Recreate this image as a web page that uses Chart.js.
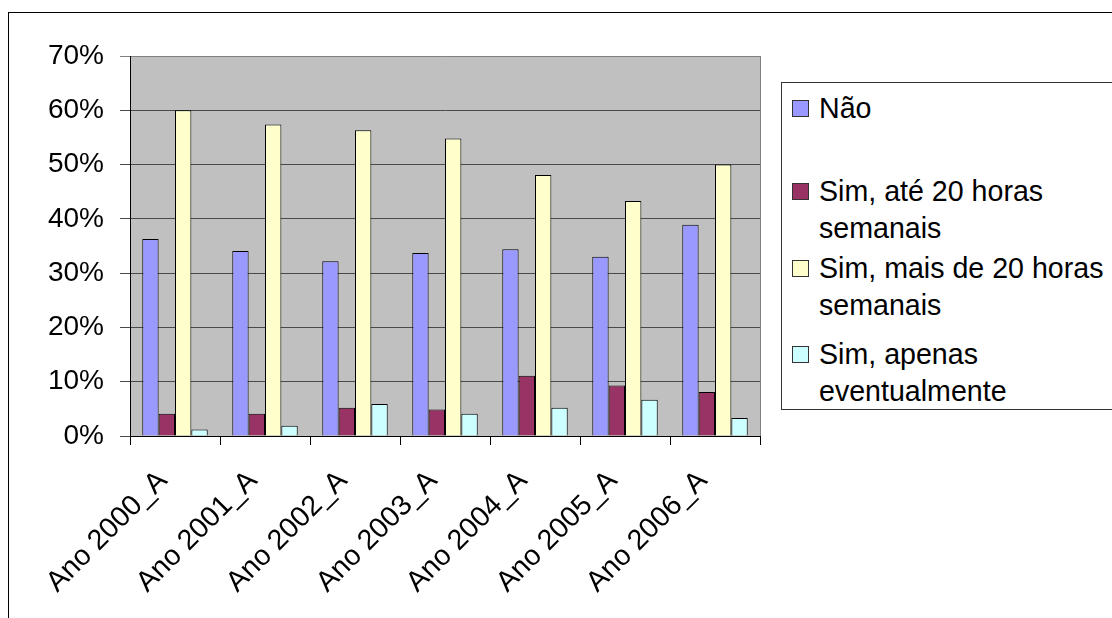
<!DOCTYPE html>
<html>
<head>
<meta charset="utf-8">
<script src="https://cdn.jsdelivr.net/npm/chart.js@4"></script>
<style>
  html, body { margin: 0; padding: 0; background: #fff; overflow: hidden; }
  #wrap { position: relative; width: 1112px; height: 618px; overflow: hidden; background: #fff; }
  #frame { position: absolute; left: 8px; top: 12px; width: 1200px; height: 700px; border: 1px solid #000; box-sizing: border-box; }
  #c { position: absolute; left: 0; top: 0; }
  #legend { position: absolute; left: 781px; top: 82px; width: 400px; height: 328px; border: 1px solid #333;
            background: #fff; box-sizing: border-box; font-family: "Liberation Sans", Arial, sans-serif;
            font-size: 28.6px; color: #000; }
  .sw { position: absolute; left: 10px; width: 17px; height: 17px; border: 1px solid #333; box-sizing: border-box; }
  .txt { position: absolute; left: 37px; width: 300px; line-height: 37px; }
</style>
</head>
<body>
<div id="wrap">
  <div id="frame"></div>
  <canvas id="c" width="1112" height="618" style="width:1112px;height:618px"></canvas>
  <div id="legend"></div>
</div>
<script>
// Categories (survey years)
const categories = ['Ano 2000_A', 'Ano 2001_A', 'Ano 2002_A', 'Ano 2003_A', 'Ano 2004_A', 'Ano 2005_A', 'Ano 2006_A'];

// Series names
const seriesNames = ['Não', 'Sim, até 20 horas semanais', 'Sim, mais de 20 horas semanais', 'Sim, apenas eventualmente'];

// Series values, in percent
const naoValues      = [36.3, 34.1, 32.2, 33.7, 34.4, 33.0, 38.9];
const ate20Values    = [4.1, 4.1, 5.2, 4.9, 11.1, 9.3, 8.1];
const mais20Values   = [60.0, 57.4, 56.3, 54.8, 48.1, 43.3, 50.0];
const eventualValues = [1.2, 1.9, 5.9, 4.1, 5.2, 6.7, 3.3];

// Value axis ticks
const yTicks = [0, 10, 20, 30, 40, 50, 60, 70];

const seriesColors = ['#9999FF', '#993366', '#FFFFCC', '#CCFFFF'];
const seriesValues = [naoValues, ate20Values, mais20Values, eventualValues];

const FONT = '"Liberation Sans", Arial, sans-serif';

// Grey plot background plus the light frame on the right edge
const plotArea = {
  id: 'plotArea',
  beforeDraw(chart) {
    const { ctx, chartArea: a } = chart;
    ctx.save();
    ctx.fillStyle = '#C0C0C0';
    ctx.fillRect(a.left, a.top, a.right - a.left, a.bottom - a.top);
    ctx.restore();
  },
  afterDraw(chart) {
    const { ctx, chartArea: a } = chart;
    ctx.save();
    ctx.strokeStyle = '#808080';
    ctx.lineWidth = 1;
    ctx.beginPath();
    ctx.moveTo(Math.round(a.right) + 0.5, a.top);
    ctx.lineTo(Math.round(a.right) + 0.5, a.bottom);
    ctx.stroke();
    ctx.restore();
  }
};

const chart = new Chart(document.getElementById('c'), {
  type: 'bar',
  data: {
    labels: categories,
    datasets: seriesNames.map((name, i) => ({
      label: name,
      data: seriesValues[i],
      backgroundColor: seriesColors[i],
      borderColor: '#000',
      borderWidth: 1,
      categoryPercentage: 4 / 5.5,
      barPercentage: 1
    }))
  },
  options: {
    responsive: false,
    animation: false,
    events: [],
    layout: { padding: { left: 0, top: 56, right: 352, bottom: 0 } },
    plugins: { legend: { display: false }, tooltip: { enabled: false } },
    scales: {
      x: {
        offset: true,
        grid: { display: true, offset: true, drawOnChartArea: false, drawTicks: true, tickLength: 9, color: '#000' },
        border: { color: '#000', width: 1 },
        ticks: {
          autoSkip: false, minRotation: 45, maxRotation: 45,
          padding: 19, labelOffset: -12,
          color: '#000', font: { family: FONT, size: 28.6, lineHeight: 1.2 }
        },
        afterFit(scale) { scale.height = 182; }
      },
      y: {
        min: 0, max: 70,
        afterBuildTicks(scale) { scale.ticks = yTicks.map(v => ({ value: v })); },
        grid: {
          color: ctx => (ctx.tick && ctx.tick.value === 70 ? '#808080' : '#4a4a4a'),
          tickLength: 10, drawTicks: true
        },
        border: { color: '#000', width: 1 },
        ticks: {
          padding: 16, color: '#000',
          font: { family: FONT, size: 28 },
          callback: v => v + '%'
        },
        afterFit(scale) { scale.width = 130; }
      }
    }
  },
  plugins: [plotArea]
});

// Legend built from the chart's datasets
const legendTops = [25, 108, 185, 271];
const legend = document.getElementById('legend');
chart.data.datasets.forEach((ds, i) => {
  const sw = document.createElement('div');
  sw.className = 'sw';
  sw.style.background = ds.backgroundColor;
  sw.style.top = (legendTops[i] - 8) + 'px';
  const t = document.createElement('div');
  t.className = 'txt';
  t.style.top = (legendTops[i] - 18.5) + 'px';
  t.textContent = ds.label;
  legend.appendChild(sw);
  legend.appendChild(t);
});
</script>
</body>
</html>
